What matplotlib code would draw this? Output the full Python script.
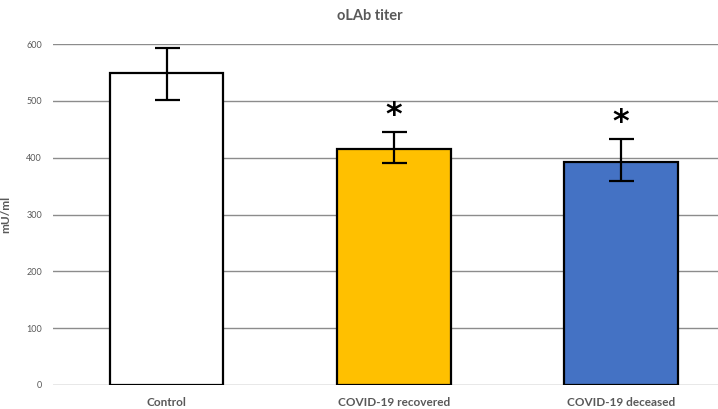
import matplotlib
matplotlib.use("Agg")
import matplotlib.pyplot as plt

# data
groups = ["Control", "COVID-19 recovered", "COVID-19 deceased"]
means = [549, 415, 392]
err_low = [48, 25, 33]
err_high = [44, 30, 40]
significant = [False, True, True]
star_y = [None, 474, 462]
colors = ["white", "#FFC000", "#4472C4"]
yticks = [0, 100, 200, 300, 400, 500, 600]

plt.rcParams["font.family"] = ["Lato", "DejaVu Sans"]
GREY = "#595959"

fig = plt.figure(figsize=(7.18, 4.09), dpi=100)
ax = fig.add_axes([0.074, 0.0587, 0.93, 0.8337])

x = range(len(groups))
ax.bar(x, means, width=0.5, color=colors, edgecolor="black", linewidth=1.6, zorder=3)
ax.errorbar(x, means, yerr=[err_low, err_high], fmt="none", ecolor="black",
            elinewidth=1.6, capsize=9, capthick=1.6, zorder=4)

for i, s in enumerate(significant):
    if s:
        ax.text(i, star_y[i], "*", ha="center", va="center", fontsize=23,
                fontweight="bold", color="black", family="DejaVu Sans")

ax.set_ylim(0, 600)
ax.set_xlim(-0.5, 2.44)
ax.set_yticks(yticks)
ax.set_yticklabels([str(t) for t in yticks], fontsize=6.5, color=GREY)
ax.set_xticks(list(x))
ax.set_xticklabels(groups, fontsize=8.5, fontweight="bold", color=GREY)
ax.tick_params(axis="both", length=0, pad=8)
ax.tick_params(axis="x", pad=9)
ax.yaxis.grid(True, color="#8c8c8c", linewidth=1.0, zorder=0)
for sp in ax.spines.values():
    sp.set_visible(False)

ax.set_ylabel("mU/ml", fontsize=8.5, fontweight="bold", color=GREY, labelpad=11)
fig.text(0.515, 0.962, "oLAb titer", ha="center", va="center", fontsize=10.5,
         fontweight="bold", color=GREY)

fig.savefig("out.png", dpi=100)
